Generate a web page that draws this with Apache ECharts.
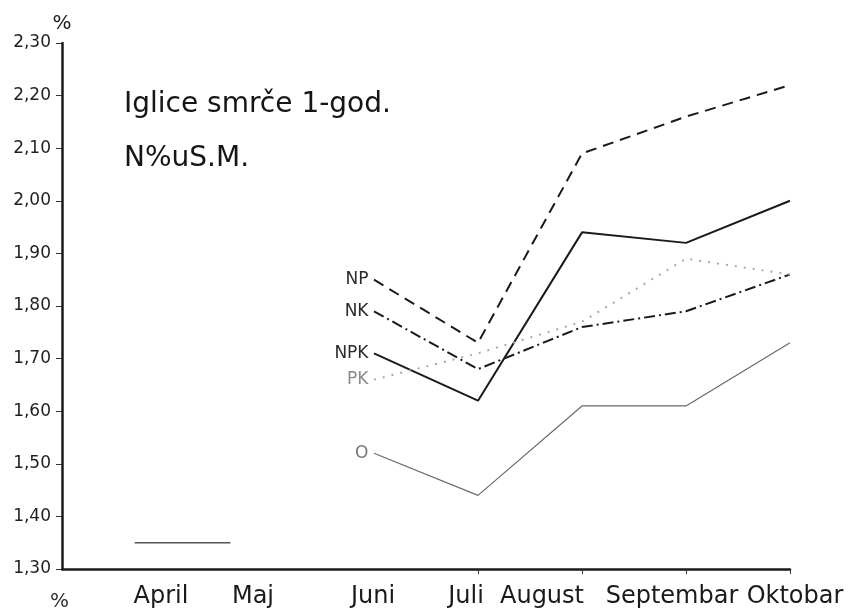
<!DOCTYPE html>
<html>
<head>
<meta charset="utf-8">
<script src="https://cdn.jsdelivr.net/npm/echarts@6/dist/echarts.min.js"></script>
<style>
  html, body { margin: 0; padding: 0; background: #fff; }
  #chart { width: 853px; height: 614px; }
</style>
</head>
<body>
<div id="chart"></div>
<script>
// Month positions along the x axis (slot 0 is the empty space left of April)
const axisMonths = ['', 'April', 'Maj', 'Juni', 'Juli', 'August', 'Septembar', 'Oktobar'];
// Months that carry measurements
const measuredMonths = ['Juni', 'Juli', 'August', 'Septembar', 'Oktobar'];

// N % in dry matter, one-year spruce needles, per fertiliser treatment
const NP  = [1.85, 1.73, 2.09, 2.16, 2.22];
const NK  = [1.79, 1.68, 1.76, 1.79, 1.86];
const NPK = [1.71, 1.62, 1.94, 1.92, 2.00];
const PK  = [1.66, 1.71, 1.77, 1.89, 1.86];
const O   = [1.52, 1.44, 1.61, 1.61, 1.73];

// Short early-season level (month-position units, value)
const springSpanX = [0.70, 1.62];
const springLevel = 1.35;

// Y axis scale and tick labels
const yMin = 1.30, yMax = 2.30, yStep = 0.10;
const yTickLabels = ['1,30', '1,40', '1,50', '1,60', '1,70', '1,80', '1,90', '2,00', '2,10', '2,20', '2,30'];

// Horizontal nudges for the hand-lettered month names (px)
const monthLabelNudge = { April: -5, Maj: -17, Juni: -1, Juli: -12, August: -40, Septembar: -14, Oktobar: 5 };

const FONT = 'DejaVu Sans';

function pairs(values) {
  return values.map((v, i) => [axisMonths.indexOf(measuredMonths[i]), v]);
}

// One treatment line, with its name written left of the first (June) point
function treatment(name, values, lineStyle, labelColor) {
  const data = pairs(values);
  data[0] = {
    value: data[0],
    label: {
      show: true, position: 'left', distance: 5, formatter: name,
      color: labelColor, fontFamily: FONT, fontSize: 17
    }
  };
  return {
    name: name, type: 'line', data: data, silent: true,
    symbol: 'circle', symbolSize: 1, showSymbol: true,
    itemStyle: { color: 'rgba(0,0,0,0)' },
    label: { show: false },
    lineStyle: lineStyle, z: 3
  };
}

const rich = {};
Object.keys(monthLabelNudge).forEach((m, i) => {
  const s = monthLabelNudge[m];
  rich['m' + i] = {
    fontFamily: FONT, fontSize: 24, color: '#1a1a1a',
    padding: s < 0 ? [0, -2 * s, 0, 0] : [0, 0, 0, 2 * s]
  };
});

const chart = echarts.init(document.getElementById('chart'), null, { renderer: 'canvas' });

chart.setOption({
  backgroundColor: '#ffffff',
  animation: false,
  title: [
    { text: 'Iglice smrče 1-god.', left: 119, top: 86,
      textStyle: { fontFamily: FONT, fontSize: 28, fontWeight: 'normal', color: '#151515' } },
    { text: 'N%uS.M.', left: 119, top: 140,
      textStyle: { fontFamily: FONT, fontSize: 28, fontWeight: 'normal', color: '#151515' } }
  ],
  grid: { left: 62, right: 63, top: 43, bottom: 45, containLabel: false },
  xAxis: {
    type: 'value', min: 0, max: axisMonths.length - 1, interval: 1,
    axisLine: { show: true, lineStyle: { color: '#1a1a1a', width: 2.5 } },
    axisTick: { show: true, length: 5, customValues: [4, 5, 6, 7],
      lineStyle: { color: '#333', width: 1 } },
    splitLine: { show: false },
    axisLabel: {
      customValues: [1, 2, 3, 4, 5, 6, 7],
      margin: 16,
      formatter: v => {
        const m = axisMonths[Math.round(v)];
        if (!m) return '';
        return '{m' + Object.keys(monthLabelNudge).indexOf(m) + '|' + m + '}';
      },
      rich: rich
    }
  },
  yAxis: {
    type: 'value', min: yMin, max: yMax, interval: yStep,
    name: '%', nameLocation: 'end', nameGap: 9,
    nameTextStyle: { fontFamily: FONT, fontSize: 20, color: '#1a1a1a', align: 'center' },
    axisLine: { show: true, lineStyle: { color: '#1a1a1a', width: 2.5 } },
    axisTick: { show: true, length: 6, lineStyle: { color: '#333', width: 1 } },
    splitLine: { show: false },
    axisLabel: {
      margin: 11, fontFamily: FONT, fontSize: 17, color: '#1f1f1f',
      formatter: v => yTickLabels[Math.round((v - yMin) / yStep)]
    }
  },
  graphic: [
    { type: 'text', left: 50, top: 592,
      style: { text: '%', fontFamily: FONT, fontSize: 20, fill: '#333' } }
  ],
  series: [
    treatment('NP', NP, { color: '#1a1a1a', width: 2, type: [11, 7] }, '#2a2a2a'),
    treatment('NK', NK, { color: '#1a1a1a', width: 2, type: [11, 4, 2, 4] }, '#2a2a2a'),
    treatment('NPK', NPK, { color: '#1a1a1a', width: 2, type: 'solid' }, '#2a2a2a'),
    treatment('PK', PK, { color: '#a8a8a8', width: 2, type: [2, 7] }, '#8a8a8a'),
    treatment('O', O, { color: '#6a6a6a', width: 1.2, type: 'solid' }, '#777777'),
    {
      name: 'spring', type: 'line', symbol: 'none', silent: true,
      data: springSpanX.map(x => [x, springLevel]),
      lineStyle: { color: '#555', width: 1.5 }
    }
  ]
});
</script>
</body>
</html>
